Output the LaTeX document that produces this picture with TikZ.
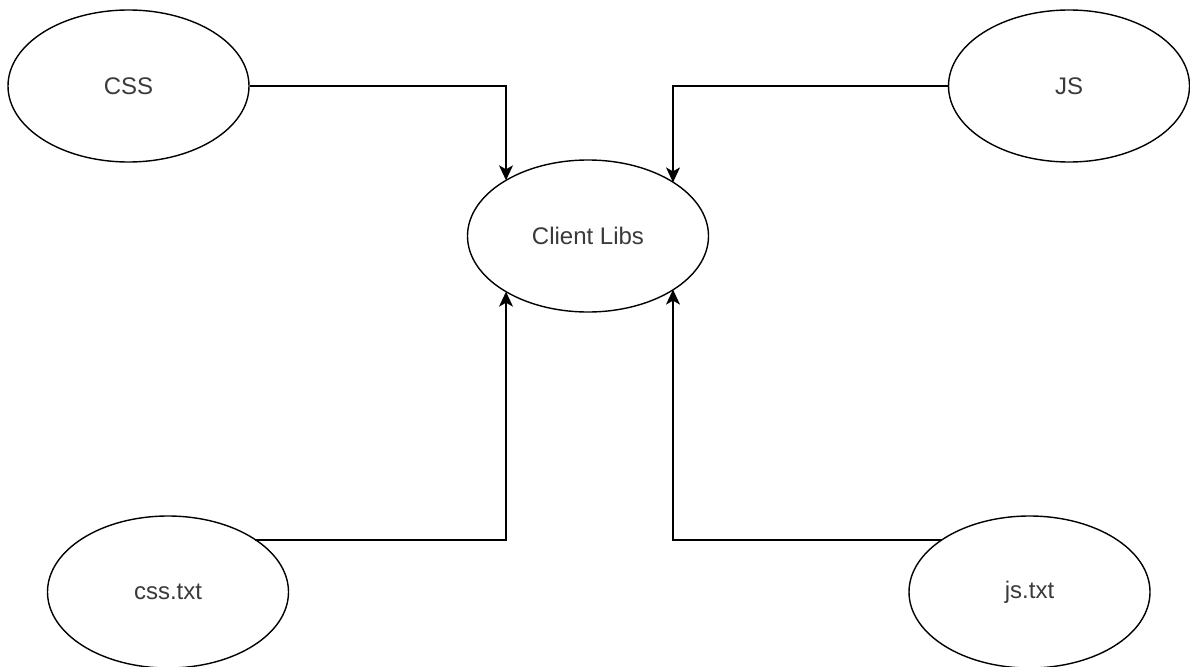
\documentclass[tikz,border=0pt]{standalone}
\usepackage{fontspec}
\setmainfont{Liberation Sans}
\usetikzlibrary{shapes.geometric,arrows.meta,calc}
\definecolor{txtgray}{HTML}{3A3A3A}
\tikzset{
  bubble/.style={draw=black, line width=1.4pt, ellipse, minimum width=241pt,
    minimum height=152pt, inner sep=0pt, text=txtgray, font=\fontsize{24}{28}\selectfont},
  link/.style={draw=black, line width=1.4pt,
    -{Stealth[length=15pt, width=14pt, inset=4pt]}},
}
\begin{document}
\begin{tikzpicture}[x=1pt,y=-1pt]
  \useasboundingbox (0,0) rectangle (1190,666);

  % sources and target
  \node[bubble] (css)    at (128.5,86)  {CSS};
  \node[bubble] (js)     at (1069,86)   {JS};
  \node[bubble] (cl)     at (588,236)   {Client Libs};
  \node[bubble] (csstxt) at (168,592)   {css.txt};
  \node[bubble] (jstxt)  at (1029.5,592) {js.txt};

  % arrow landing points on the Client Libs outline
  \coordinate (cl-tl) at ($(cl.center)+(-82,-55.7)$);
  \coordinate (cl-tr) at ($(cl.center)+(85,-53.6)$);
  \coordinate (cl-bl) at ($(cl.center)+(-82,55.7)$);
  \coordinate (cl-br) at ($(cl.center)+(85,53.6)$);

  % start points on the text-file outlines
  \coordinate (csstxt-out) at ($(csstxt.center)+(87,-52)$);
  \coordinate (jstxt-out)  at ($(jstxt.center)+(-88,-52)$);

  \draw[link] (css.east) -| (cl-tl);
  \draw[link] (js.west) -| (cl-tr);
  \draw[link] (csstxt-out) -| (cl-bl);
  \draw[link] (jstxt-out) -| (cl-br);
\end{tikzpicture}
\end{document}
